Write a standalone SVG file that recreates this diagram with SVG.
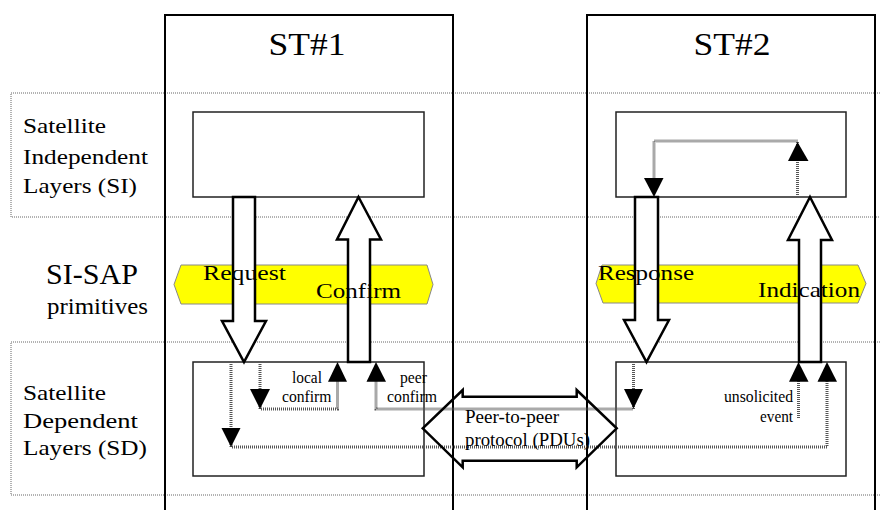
<svg xmlns="http://www.w3.org/2000/svg" width="880" height="510" viewBox="0 0 880 510" font-family="'Liberation Serif', 'Times New Roman', serif">
<style>
  text { font-family: 'Liberation Serif', 'Times New Roman', 'DejaVu Serif', serif; fill: #000; }
  .band { fill: none; stroke: #666; stroke-width: 1; stroke-dasharray: 1 1; }
  .st { fill: none; stroke: #000; stroke-width: 2; }
  .layer { fill: #fff; stroke: #222; stroke-width: 1.5; }
  .sap { fill: #ffff00; stroke: #888; stroke-width: 1; }
  .hollow { fill: #fff; stroke: #000; stroke-width: 2.5; stroke-linejoin: miter; }
  .dot { fill: none; stroke: #555; stroke-width: 3; stroke-dasharray: 1 1; }
  .tri { fill: #000; stroke: none; }
  .peer { fill: none; stroke: #000; stroke-width: 2.5; }
  .lbl { font-size: 22px; }
  .big { font-size: 31px; }
  .sm { font-size: 16px; }
</style>

<g id="bands">
  <rect class="band" x="11" y="93" width="880" height="124"/>
  <rect class="band" x="11" y="342" width="880" height="153"/>
</g>

<g id="st1">
  <path class="st" d="M165,512 V15 H453 V512"/>
  <text class="big" x="307" y="55" text-anchor="middle" textLength="77" lengthAdjust="spacingAndGlyphs">ST#1</text>
</g>
<g id="st2">
  <path class="st" d="M587,512 V15 H875 V512"/>
  <text class="big" x="732" y="55" text-anchor="middle" textLength="77" lengthAdjust="spacingAndGlyphs">ST#2</text>
</g>

<g id="labels">
  <text class="lbl" x="23" y="133" textLength="83" lengthAdjust="spacingAndGlyphs">Satellite</text>
  <text class="lbl" x="23" y="164" textLength="125" lengthAdjust="spacingAndGlyphs">Independent</text>
  <text class="lbl" x="23" y="193" textLength="114" lengthAdjust="spacingAndGlyphs">Layers (SI)</text>
  <text x="46" y="284" font-size="30" textLength="92" lengthAdjust="spacingAndGlyphs">SI-SAP</text>
  <text x="47" y="314" font-size="23" textLength="101" lengthAdjust="spacingAndGlyphs">primitives</text>
  <text class="lbl" x="23" y="400" textLength="83" lengthAdjust="spacingAndGlyphs">Satellite</text>
  <text class="lbl" x="23" y="428" textLength="115" lengthAdjust="spacingAndGlyphs">Dependent</text>
  <text class="lbl" x="23" y="455" textLength="124" lengthAdjust="spacingAndGlyphs">Layers (SD)</text>
</g>

<g id="st1-si"><rect class="layer" x="193" y="112" width="231" height="85"/></g>
<g id="st1-sd"><rect class="layer" x="193" y="362" width="231" height="114"/></g>
<g id="st2-si"><rect class="layer" x="616" y="112" width="230" height="85"/></g>
<g id="st2-sd"><rect class="layer" x="616" y="362" width="230" height="114"/></g>

<g id="sap1"><polygon class="sap" points="174,284.5 181,265 427,265 433,284.5 427,304 181,304"/></g>
<g id="sap2"><polygon class="sap" points="596,283.5 602,265 858,265 866,283.5 858,303 603,303"/></g>

<g id="connectors">
  <polygon id="request-arrow" class="hollow" points="233,197 255,197 255,321 266,321 244,362 222,321 233,321"/>
  <polygon id="confirm-arrow" class="hollow" points="358.5,197 381,239.5 370,239.5 370,362 348,362 348,239.5 337,239.5"/>
  <polygon id="response-arrow" class="hollow" points="635,197 658,197 658,320 669,320 646.5,362 624,320 635,320"/>
  <polygon id="indication-arrow" class="hollow" points="810,197 832,240 821,240 821,362 799,362 799,240 788,240"/>

  <polyline class="dot" points="231,362 231,447 827,447 827,375"/>
  <polygon class="tri" points="221.5,428 240.5,428 231,447"/>
  <polygon class="tri" points="827,362 837,381.7 817.5,381.7"/>

  <polyline class="dot" points="260,362 260,409 337.5,409 337.5,375"/>
  <polygon class="tri" points="250,389 270,389 260,409"/>
  <polygon class="tri" points="337.5,362 347,381.7 328,381.7"/>

  <polyline class="dot" points="633.5,362 633.5,409 376,409 376,375"/>
  <polygon class="tri" points="624,389 643,389 633.5,408.5"/>
  <polygon class="tri" points="376,362 386,381.7 366.5,381.7"/>

  <line class="dot" x1="798.5" y1="418" x2="798.5" y2="375"/>
  <polygon class="tri" points="798.5,362 808.5,381.7 789,381.7"/>

  <polyline class="dot" points="797.5,197 797.5,141 654,141 654,185"/>
  <polygon class="tri" points="644,178 663.5,178 654,197"/>
  <polygon class="tri" points="797.5,142 808.5,161 788,161"/>

  <polygon id="peer-arrow" class="peer" points="422.7,428.3 462.7,390 462.7,396.7 576.7,396.7 576.7,390 616.7,428.3 576.7,467.3 576.7,460.7 462.7,460.7 462.7,467.3"/>
</g>

<g id="primitive-labels">
  <text class="lbl" x="203" y="280" textLength="83" lengthAdjust="spacingAndGlyphs">Request</text>
  <text class="lbl" x="316" y="298" font-size="23" textLength="85" lengthAdjust="spacingAndGlyphs">Confirm</text>
  <text class="lbl" x="598" y="280" textLength="96" lengthAdjust="spacingAndGlyphs">Response</text>
  <text class="lbl" x="758" y="297" font-size="23" textLength="102" lengthAdjust="spacingAndGlyphs">Indication</text>
</g>

<g id="flow-labels">
  <text class="sm" x="292" y="383" textLength="30" lengthAdjust="spacingAndGlyphs">local</text>
  <text class="sm" x="282" y="401.5" textLength="49.5" lengthAdjust="spacingAndGlyphs">confirm</text>
  <text class="sm" x="400" y="383" textLength="27" lengthAdjust="spacingAndGlyphs">peer</text>
  <text class="sm" x="387" y="401.5" textLength="50" lengthAdjust="spacingAndGlyphs">confirm</text>
  <text class="sm" x="724" y="401.5" textLength="69" lengthAdjust="spacingAndGlyphs">unsolicited</text>
  <text class="sm" x="760" y="421.5" textLength="33" lengthAdjust="spacingAndGlyphs">event</text>
  <text x="465" y="423" font-size="18" textLength="94" lengthAdjust="spacingAndGlyphs">Peer-to-peer</text>
  <text x="465" y="446" font-size="18" textLength="125" lengthAdjust="spacingAndGlyphs">protocol (PDUs)</text>
</g>
</svg>
